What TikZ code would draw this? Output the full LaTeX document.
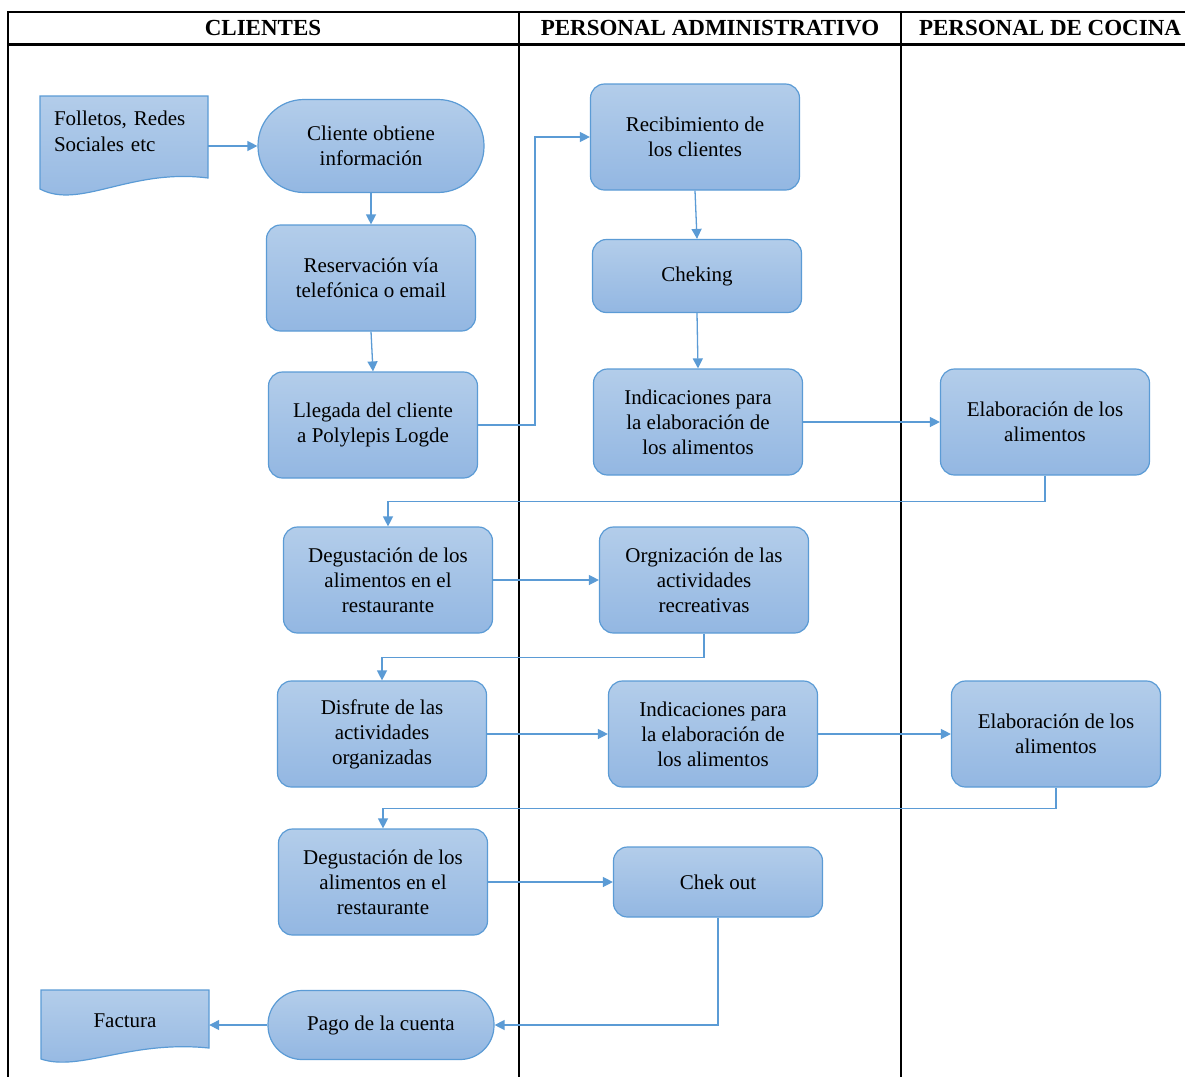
\documentclass[tikz,border=0pt]{standalone}
\usepackage{fontspec}
\setmainfont{Liberation Serif}
\usepackage{tikz}
\usetikzlibrary{arrows.meta}
\definecolor{borde}{HTML}{5B9BD5}
\definecolor{arriba}{HTML}{B3CDEA}
\definecolor{abajo}{HTML}{93B7E2}

\begin{document}
\begin{tikzpicture}[x=1pt,y=-1pt,
	caja/.style={draw=borde,line width=1.2pt,rounded corners=14pt,top color=arriba,bottom color=abajo,
		minimum width=209pt,minimum height=106pt,inner sep=0pt,align=center,font=\fontsize{21}{25}\selectfont},
	ovalo/.style={caja,minimum width=226pt},
	hoja/.style={draw=borde,line width=1.2pt,top color=arriba,bottom color=abajo},
	texto/.style={inner sep=0pt,font=\fontsize{21}{26}\selectfont},
	titulo/.style={inner sep=0pt,font=\fontsize{23}{28}\selectfont\bfseries},
	flecha/.style={draw=borde,line width=1.3pt,-{Triangle[length=10pt,width=10pt]}}]
	\useasboundingbox (0,0) rectangle (1185,1077);
	%\draw[help lines] (0,0) grid[step=100] (1185,1077);
	% carriles
	\draw[line width=2pt] (8,12) -- (1185,12);
	\draw[line width=3pt] (8,44) -- (1185,44);
	\draw[line width=2pt] (8,11) -- (8,1077);
	\draw[line width=2pt] (519,12) -- (519,1077);
	\draw[line width=2pt] (901,12) -- (901,1077);
	\node[titulo] (tcli) at (263,28) {CLIENTES};
	\node[titulo] (tadm) at (710,28) {PERSONAL ADMINISTRATIVO};
	\node[titulo] (tcoc) at (1050,28) {PERSONAL DE COCINA};

	% documentos
	\draw[hoja] (40,96) -- (208,96) -- (208,178) .. controls (130,168) and (80,210) .. (40,189) -- cycle;
	\node[texto,minimum width=168pt,minimum height=68pt,text width=140pt,align=left] (fol) at (124,131) {Folletos, Redes\\Sociales etc};
	\draw[hoja] (41,990) -- (209,990) -- (209,1048) .. controls (130,1040) and (80,1072) .. (41,1059) -- cycle;
	\node[texto,minimum width=168pt,minimum height=58pt] (fac) at (125,1021) {Factura};

	% clientes
	\node[ovalo,rounded corners=46pt,minimum height=93pt] (cli) at (371,146) {Cliente obtiene\\información};
	\node[caja] (res) at (371,278) {Reservación vía\\telefónica o email};
	\node[caja] (lle) at (373,425) {Llegada del cliente\\a Polylepis Logde};
	\node[caja] (deg1) at (388,580) {Degustación de los\\alimentos en el\\restaurante};
	\node[caja] (dis) at (382,734) {Disfrute de las\\actividades\\organizadas};
	\node[caja] (deg2) at (383,882) {Degustación de los\\alimentos en el\\restaurante};
	\node[ovalo,rounded corners=34pt,minimum height=69pt] (pag) at (381,1025) {Pago de la cuenta};

	% personal administrativo
	\node[caja] (rec) at (695,137) {Recibimiento de\\los clientes};
	\node[caja,minimum height=73pt] (che) at (697,276) {Cheking};
	\node[caja] (ind1) at (698,422) {Indicaciones para\\la elaboración de\\los alimentos};
	\node[caja] (org) at (704,580) {Orgnización de las\\actividades\\recreativas};
	\node[caja] (ind2) at (713,734) {Indicaciones para\\la elaboración de\\los alimentos};
	\node[caja,minimum height=70pt] (chk) at (718,882) {Chek out};

	% personal de cocina
	\node[caja] (ela1) at (1045,422) {Elaboración de los\\alimentos};
	\node[caja] (ela2) at (1056,734) {Elaboración de los\\alimentos};

	% flechas
	\draw[flecha] (fol.east |- cli.west) -- (cli.west);
	\draw[flecha] (cli.south) -- (res.north);
	\draw[flecha] (res.south) -- (lle.north);
	\draw[flecha] (lle.east) -- ++(57,0) |- (rec.west);
	\draw[flecha] (rec.south) -- (che.north);
	\draw[flecha] (che.south) -- (ind1.north);
	\draw[flecha] (ind1.east) -- (ela1.west);
	\draw[flecha] (ela1.south) -- ++(0,26) -| (deg1.north);
	\draw[flecha] (deg1.east) -- (org.west);
	\draw[flecha] (org.south) -- ++(0,24) -| (dis.north);
	\draw[flecha] (dis.east) -- (ind2.west);
	\draw[flecha] (ind2.east) -- (ela2.west);
	\draw[flecha] (ela2.south) -- ++(0,21) -| (deg2.north);
	\draw[flecha] (deg2.east) -- (chk.west);
	\draw[flecha] (chk.south) |- (pag.east);
	\draw[flecha] (pag.west) -- (fac.east |- pag.west);
\end{tikzpicture}
\end{document}
